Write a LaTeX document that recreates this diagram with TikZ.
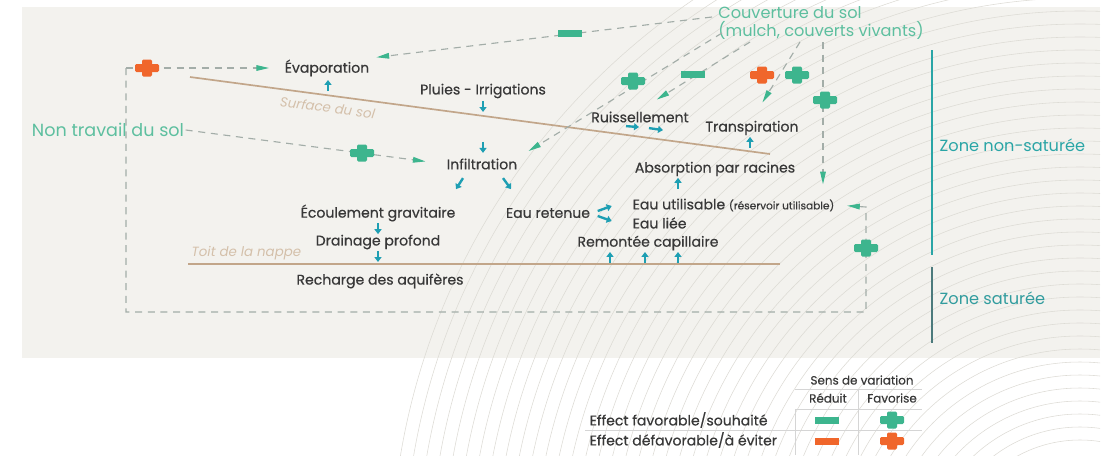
\documentclass[tikz,border=0pt]{standalone}
\usepackage{fontspec}
\setmainfont{Poppins}
\newfontfamily\medfont{Poppins}[FakeBold=0.5]
\usetikzlibrary{positioning,arrows.meta,calc}

\definecolor{fond}{HTML}{F3F2EE}
\definecolor{cercle}{HTML}{DDDBD5}
\definecolor{vert}{HTML}{3DB58E}
\definecolor{vertclair}{HTML}{5DBF9F}
\definecolor{orangef}{HTML}{F0662B}
\definecolor{bleu}{HTML}{1E9FB3}
\definecolor{texte}{HTML}{383838}
\definecolor{sable}{HTML}{C2A68A}
\definecolor{sableclair}{HTML}{D4C0AA}
\definecolor{tiret}{HTML}{A3ADA8}
\definecolor{zone}{HTML}{2AA5A6}
\definecolor{zonef}{HTML}{4C7A7C}
\definecolor{grille}{HTML}{D5D5D5}

\tikzset{
  lbl/.style={text=texte, font=\medfont\fontsize{10}{11}\selectfont, inner sep=1pt},
  grand/.style={font=\fontsize{11.5}{13}\selectfont, inner sep=1pt},
  leg/.style={text=texte, font=\medfont\fontsize{8.5}{10}\selectfont, inner sep=1pt},
  fl/.style={bleu, line width=1.7pt, -{Triangle[width=5pt,length=3.5pt]}},
  lien/.style={tiret, line width=0.8pt, dash pattern=on 5pt off 4pt},
  pointe/.style={-{Triangle[length=9pt,width=4pt,color=vert]}},
  sol/.style={sable, line width=1.2pt},
  pics/croix/.style={code={
    \fill[#1,rounded corners=1pt] (-12,-4) rectangle (12,4);
    \fill[#1,rounded corners=1pt] (-5,-8.5) rectangle (5,8.5);}},
  pics/barre/.style={code={\fill[#1] (-12,-3.5) rectangle (12,3.5);}}
}

\begin{document}
\begin{tikzpicture}[x=0.025cm,y=-0.025cm]
\useasboundingbox (0,0) rectangle (1115,455);
% fond et lignes de niveau
\fill[fond] (22,7) rectangle (1100,358);
\begin{scope}
  \clip (0,0) rectangle (1100,455);
  \foreach \r in {130,143,...,700}
    \draw[cercle, line width=0.4pt] (1080,570) circle[radius=\r];
\end{scope}

% surface du sol et toit de la nappe
\coordinate (surfA) at (190,77);
\coordinate (surfB) at (770,154);
\draw[sol] (surfA) -- node[pos=0.24, sloped, below=1pt, text=sableclair,
  font=\fontsize{9.5}{10}\selectfont\itshape] (surflbl) {Surface du sol} (surfB);
\coordinate (nappeA) at (188,264);
\coordinate (nappeB) at (780,264);
\draw[sol] (nappeA) -- (nappeB);
\node[anchor=south west, text=sableclair, inner sep=1pt,
  font=\fontsize{9.5}{10}\selectfont\itshape] (toit) at (190,262) {Toit de la nappe};

% processus
\node[lbl] (evap) at (327,68) {Évaporation};
\node[lbl] (pluies) at (483,91) {Pluies - Irrigations};
\node[lbl] (infil) at (482,164) {Infiltration};
\node[lbl] (ruiss) at (640,117) {Ruissellement};
\node[lbl] (transp) at (752,128) {Transpiration};
\node[lbl] (absorp) at (715,169) {Absorption par racines};
\node[lbl, anchor=west] (eauutil) at (631,205)
  {Eau utilisable {\fontsize{7.5}{8}\selectfont(réservoir utilisable)}};
\node[lbl, anchor=west] (eauliee) at (631,223) {Eau liée};
\node[lbl] (eauret) at (548,213) {Eau retenue};
\node[lbl] (ecoul) at (378,213) {Écoulement gravitaire};
\node[lbl] (drain) at (378,242) {Drainage profond};
\node[lbl] (remcap) at (648,243) {Remontée capillaire};
\node[lbl] (recharge) at (380,281) {Recharge des aquifères};

% flux d'eau
\draw[fl] (evap.south) ++(1,13) -- ++(0,-11);
\draw[fl] (pluies.south) ++(0,1) -- ++(0,11);
\draw[fl] (infil.north) ++(1,-15) -- ++(0,11);
\draw[fl] (infil.south) ++(-19,7) -- ++(-7,11);
\draw[fl] (infil.south) ++(21,7) -- ++(8,11);
\draw[fl] (ecoul.south) ++(0,0) -- ++(0,11);
\draw[fl] (drain.south) ++(0,0) -- ++(0,11);
\draw[fl] (eauret.east) ++(6,-2) -- ++(14,-5);
\draw[fl] (eauret.east) ++(6,3) -- ++(14,5);
\foreach \dx in {-38,-3,30}
  \draw[fl] (remcap.south) ++(\dx,11) -- ++(0,-11);
\draw[fl] (absorp.south) ++(-37,11) -- ++(0,-11);
\draw[fl] (transp.south) ++(-2,11) -- ++(0,-11);
\draw[fl] (ruiss.south) ++(-14,2) -- ++(13,1);
\draw[fl] (ruiss.south) ++(9,4) -- ++(14,2);

% non travail du sol
\node[grand, text=vertclair, font=\fontsize{12.5}{14}\selectfont] (nontrav) at (108,130) {Non travail du sol};
\draw[lien, pointe, shorten >=14] (nontrav.east) -- (infil.west);
\pic at (362,153) {croix=vert};

\coordinate (bxh) at (126,68);
\coordinate (bxb) at (126,312);
\coordinate (bxd) at (866,312);
\coordinate (bxr) at (866,207);
\draw[lien, pointe, shorten >=10] (bxh) -- (evap.west);
\draw[lien, pointe, shorten >=8] (bxh) -- (bxb) -- (bxd) -- (bxr) -- (eauutil.east);
\pic at (147,68) {croix=orangef};
\pic at (866,248) {croix=vert};

% couverture du sol
\node[grand, text=vertclair, align=left, anchor=north west, inner sep=0pt]
  (couv) at (718,6) {Couverture du sol\\(mulch, couverts vivants)};
\coordinate (ca) at (712,17);
\coordinate (cb) at (722,33);
\coordinate (cc) at (750,42);
\coordinate (cd) at (800,42);
\coordinate (ce) at (823,42);
\draw[lien, pointe, shorten >=4] (ca) -- (evap.north east);
\draw[lien, pointe, shorten >=8] (cb) -- (infil.north east);
\draw[lien, pointe, shorten >=14] (cc) -- (ruiss.north);
\draw[lien, pointe, shorten >=14] (cd) -- (transp.north);
\draw[lien, pointe, shorten >=9] (ce) -- (ce |- eauutil.north);
\pic at (570,33) {barre=vert};
\pic at (633,81) {croix=vert};
\pic at (693,74) {barre=vert};
\pic at (762,75) {croix=orangef};
\pic at (797,75) {croix=vert};
\pic at (825,100) {croix=vert};

% zones
\draw[zone, line width=1.2pt] (932,50) -- (932,255);
\node[grand, text=zone, anchor=west] (zns) at (938,145) {Zone non-saturée};
\draw[zonef, line width=1.2pt] (932,267) -- (932,343);
\node[grand, text=zone!80!zonef, anchor=west] (zs) at (938,298) {Zone saturée};

% legende
\node[leg] (sens) at (862,380) {Sens de variation};
\node[leg] (reduit) at (828,398) {Réduit};
\node[leg] (favor) at (892,398) {Favorise};
\node[leg, anchor=west, font=\medfont\fontsize{10}{12}\selectfont] (effet1) at (588,420) {Effect favorable/souhaité};
\node[leg, anchor=west, font=\medfont\fontsize{10}{12}\selectfont] (effet2) at (588,440) {Effect défavorable/à éviter};
\draw[grille] (795,389) -- (922,389) (795,409) -- (922,409) (585,430) -- (922,430);
\draw[grille] (795,409) -- (795,455) (858,389) -- (858,455);
\pic at (827,420) {barre=vert};
\pic at (892,420) {croix=vert};
\pic at (827,441) {barre=orangef};
\pic at (892,441) {croix=orangef};
\end{tikzpicture}
\end{document}
